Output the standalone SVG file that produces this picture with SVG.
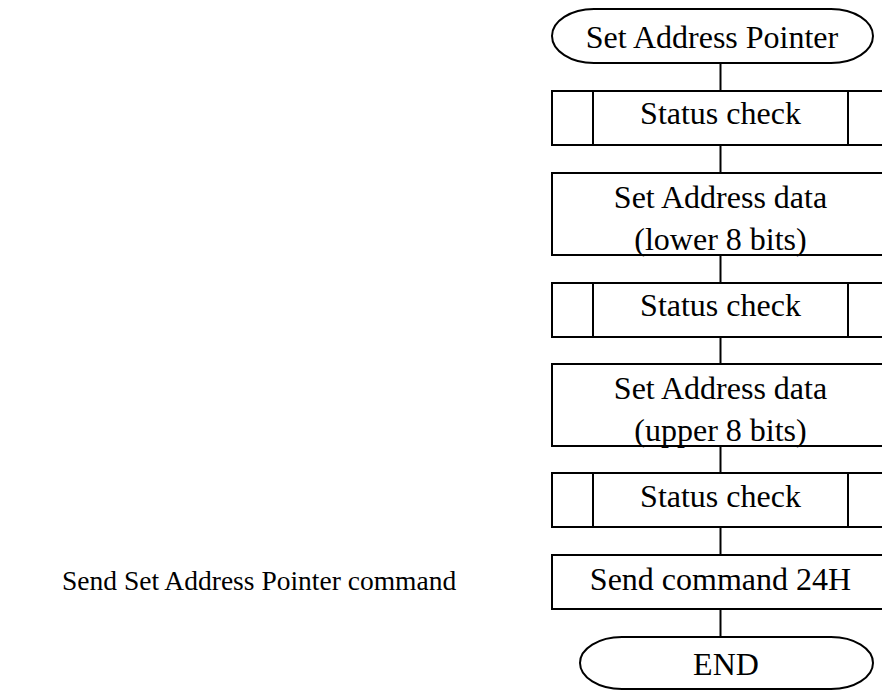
<svg xmlns="http://www.w3.org/2000/svg" width="882" height="691" viewBox="0 0 882 691">
<style>
.s{fill:#fff;stroke:#000;stroke-width:2}
.c{stroke:#000;stroke-width:2;fill:none}
text{font-family:"Liberation Serif","Times New Roman",serif;font-size:32px;fill:#000;text-anchor:middle}
.n{font-size:27.5px;text-anchor:start}
</style>
<rect width="882" height="691" fill="#fff"/>
<g id="connectors">
<line class="c" x1="720.5" y1="63" x2="720.5" y2="91"/>
<line class="c" x1="720.5" y1="145" x2="720.5" y2="173"/>
<line class="c" x1="720.5" y1="255" x2="720.5" y2="283"/>
<line class="c" x1="720.5" y1="337" x2="720.5" y2="364"/>
<line class="c" x1="720.5" y1="446" x2="720.5" y2="473"/>
<line class="c" x1="720.5" y1="527" x2="720.5" y2="555"/>
<line class="c" x1="720.5" y1="609" x2="720.5" y2="637"/>
</g>
<g id="start">
<rect class="s" x="552" y="9" width="321" height="54" rx="42" ry="27"/>
<text x="712" y="48">Set Address Pointer</text>
</g>
<g id="status1">
<rect class="s" x="552" y="91" width="340" height="54"/>
<line class="c" x1="593" y1="91" x2="593" y2="145"/>
<line class="c" x1="848" y1="91" x2="848" y2="145"/>
<text x="720.5" y="124">Status check</text>
</g>
<g id="addrlow">
<rect class="s" x="552" y="173" width="340" height="82"/>
<text x="720.5" y="208">Set Address data</text>
<text x="720.5" y="250">(lower 8 bits)</text>
</g>
<g id="status2">
<rect class="s" x="552" y="283" width="340" height="54"/>
<line class="c" x1="593" y1="283" x2="593" y2="337"/>
<line class="c" x1="848" y1="283" x2="848" y2="337"/>
<text x="720.5" y="316">Status check</text>
</g>
<g id="addrhigh">
<rect class="s" x="552" y="364" width="340" height="82"/>
<text x="720.5" y="399">Set Address data</text>
<text x="720.5" y="441">(upper 8 bits)</text>
</g>
<g id="status3">
<rect class="s" x="552" y="473" width="340" height="54"/>
<line class="c" x1="593" y1="473" x2="593" y2="527"/>
<line class="c" x1="848" y1="473" x2="848" y2="527"/>
<text x="720.5" y="507">Status check</text>
</g>
<g id="send">
<rect class="s" x="552" y="555" width="340" height="54"/>
<text x="720.5" y="590">Send command 24H</text>
</g>
<g id="end">
<rect class="s" x="580" y="637" width="293" height="52" rx="42" ry="26"/>
<text x="726" y="675">END</text>
</g>
<g id="note">
<text class="n" x="62" y="590">Send Set Address Pointer command</text>
</g>
</svg>
